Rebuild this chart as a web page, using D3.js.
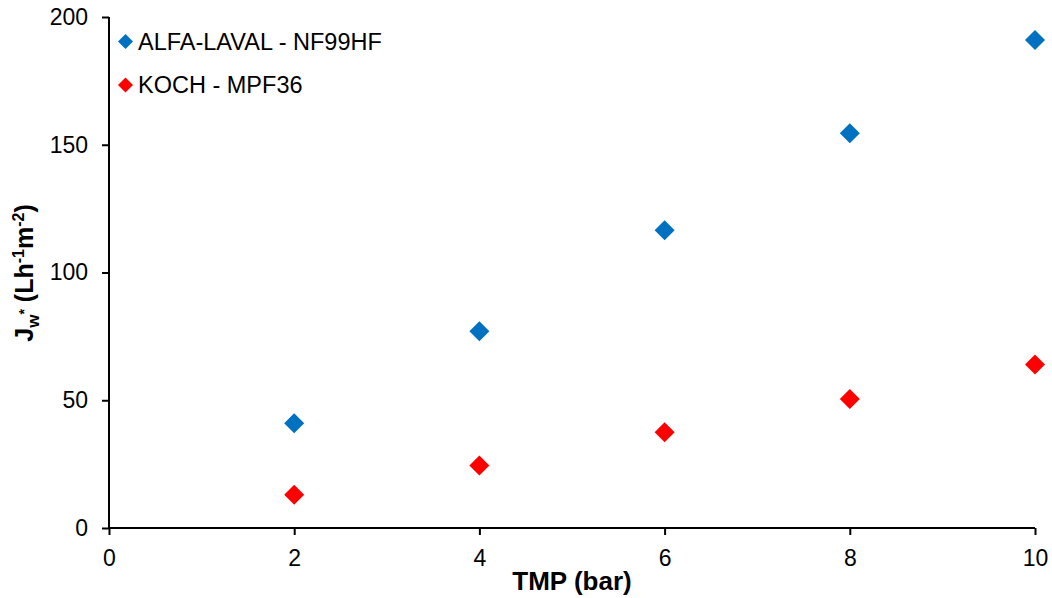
<!DOCTYPE html>
<html><head><meta charset="utf-8">
<script src="https://cdn.jsdelivr.net/npm/d3@7"></script>
<style>body{margin:0;background:#fff}svg{display:block}text{font-family:"Liberation Sans",Arial,sans-serif}</style>
</head><body><svg id="c" width="1052" height="598"></svg>
<script>
const tmp = [2, 4, 6, 8, 10];
const alfaLaval = [41, 77, 116.5, 154.5, 191];
const koch = [13, 24.5, 37.5, 50.5, 64];
const seriesNames = ["ALFA-LAVAL - NF99HF", "KOCH - MPF36"];
const seriesColors = ["#0070C0", "#FF0000"];
const xTicks = [0, 2, 4, 6, 8, 10];
const yTicks = [0, 50, 100, 150, 200];

const svg = d3.select("#c");
const x = d3.scaleLinear().domain([0, 10]).range([109, 1035]);
const y = d3.scaleLinear().domain([0, 200]).range([528, 17]);

const xa = svg.append("g").attr("transform", "translate(0,528)")
  .call(d3.axisBottom(x).tickValues(xTicks).tickSize(7).tickPadding(15).tickSizeOuter(0));
const ya = svg.append("g").attr("transform", "translate(109,0)")
  .call(d3.axisLeft(y).tickValues(yTicks).tickSize(7).tickPadding(14).tickSizeOuter(0));
[xa, ya].forEach(a => {
  a.selectAll("path,line").attr("stroke", "#000").attr("stroke-width", 2);
  a.selectAll("text").attr("font-size", 23).attr("fill", "#000").attr("font-family", '"Liberation Sans",Arial,sans-serif');
});
xa.select(".domain").attr("d", "M109,0H1035");
ya.select(".domain").attr("d", "M0,17V528");

const diamond = d3.symbol().type(d3.symbolSquare).size(200);
const data = [alfaLaval, koch];
data.forEach((vals, i) => {
  svg.append("g").selectAll("path").data(vals).join("path")
    .attr("d", diamond)
    .attr("transform", (d, j) => `translate(${x(tmp[j])},${y(d)}) rotate(45)`)
    .attr("fill", seriesColors[i]);
});

// legend
seriesNames.forEach((n, i) => {
  const ly = 41.5 + i * 43.5;
  svg.append("path").attr("d", d3.symbol().type(d3.symbolSquare).size(112))
    .attr("transform", `translate(125.5,${ly}) rotate(45)`).attr("fill", seriesColors[i]);
  svg.append("text").attr("x", 138).attr("y", ly + 8).attr("font-size", 23.5).text(n);
});

// axis titles
svg.append("text").attr("x", 572).attr("y", 590).attr("text-anchor", "middle")
  .attr("font-size", 26).attr("font-weight", "bold").text("TMP (bar)");

const yt = svg.append("text").attr("transform", "translate(33,273) rotate(-90)")
  .attr("text-anchor", "middle").attr("font-size", 25).attr("font-weight", "bold");
yt.append("tspan").text("J");
yt.append("tspan").attr("font-size", 17).attr("dy", 6).text("w");
yt.append("tspan").attr("font-size", 14).attr("dy", -10).text("*");
yt.append("tspan").attr("dy", 4).text(" (Lh");
yt.append("tspan").attr("font-size", 16).attr("dy", -9).text("-1");
yt.append("tspan").attr("dy", 9).text("m");
yt.append("tspan").attr("font-size", 16).attr("dy", -9).text("-2");
yt.append("tspan").attr("dy", 9).text(")");
</script></body></html>
